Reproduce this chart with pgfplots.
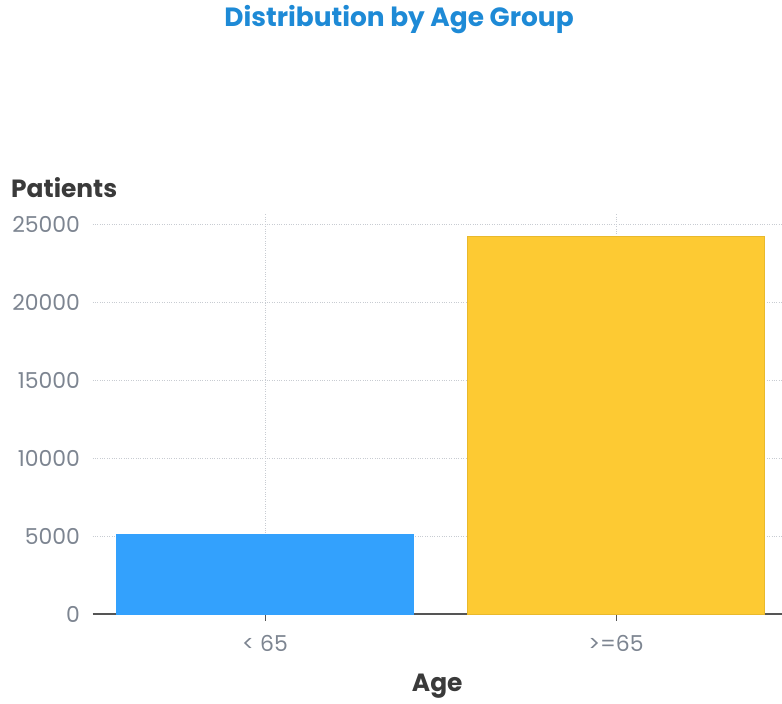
\documentclass[border=0pt]{standalone}
\usepackage{fontspec}
\setmainfont{Poppins}
\usepackage{pgfplots}
\pgfplotsset{compat=1.18}

\definecolor{titleblue}{HTML}{1E8AD6}
\definecolor{barblue}{HTML}{33A1FD}
\definecolor{baryellow}{HTML}{FDCA33}
\definecolor{baryellowedge}{HTML}{E9B92C}
\definecolor{ticktext}{HTML}{7D8591}
\definecolor{labeltext}{HTML}{3A3A3A}
\definecolor{gridgray}{HTML}{C8CCD2}
\definecolor{axisgray}{HTML}{555555}

\begin{document}
\begin{tikzpicture}[x=1bp,y=1bp]
\useasboundingbox (0,0) rectangle (782,704);
\node[font=\bfseries\fontsize{26.5}{30}\selectfont, text=titleblue] at (399,684) {Distribution by Age Group};
\node[font=\bfseries\fontsize{25}{29}\selectfont, text=labeltext, anchor=west, inner sep=0pt] at (11,516) {Patients};
\begin{axis}[
  at={(92.5bp,90bp)}, anchor=south west,
  scale only axis,
  width=689.5bp, height=400bp,
  ybar, bar width=0.846,
  xmin=-0.4915, xmax=1.473,
  ymin=0, ymax=25640,
  xtick={0,1},
  xticklabels={{< 65},{>=65}},
  ytick={0,5000,10000,15000,20000,25000},
  /pgf/number format/assume math mode=true,
  /pgf/number format/1000 sep={},
  scaled y ticks=false,
  tick label style={font=\fontsize{22}{26}\selectfont, text=ticktext},
  axis x line*=bottom,
  axis y line*=left,
  y axis line style={draw=none},
  x axis line style={draw=axisgray, line width=1.4pt},
  xtick style={draw=axisgray, line width=1pt},
  ytick style={draw=none},
  tick align=outside,
  major tick length=7bp,
  xmajorgrids, ymajorgrids,
  grid style={gridgray, dotted, line width=0.9pt},
  xticklabel style={yshift=-11bp},
  yticklabel style={xshift=-2bp},
  xlabel={Age},
  xlabel style={font=\bfseries\fontsize{25}{29}\selectfont, text=labeltext, yshift=-18bp, inner sep=1pt},
  axis on top=false,
  clip=false,
]
\addplot[fill=barblue, draw=barblue, bar shift=0pt] coordinates {(0,5120)};
\addplot[fill=baryellow, draw=baryellowedge, bar shift=0pt] coordinates {(1,24230)};
\end{axis}
\end{tikzpicture}
\end{document}
